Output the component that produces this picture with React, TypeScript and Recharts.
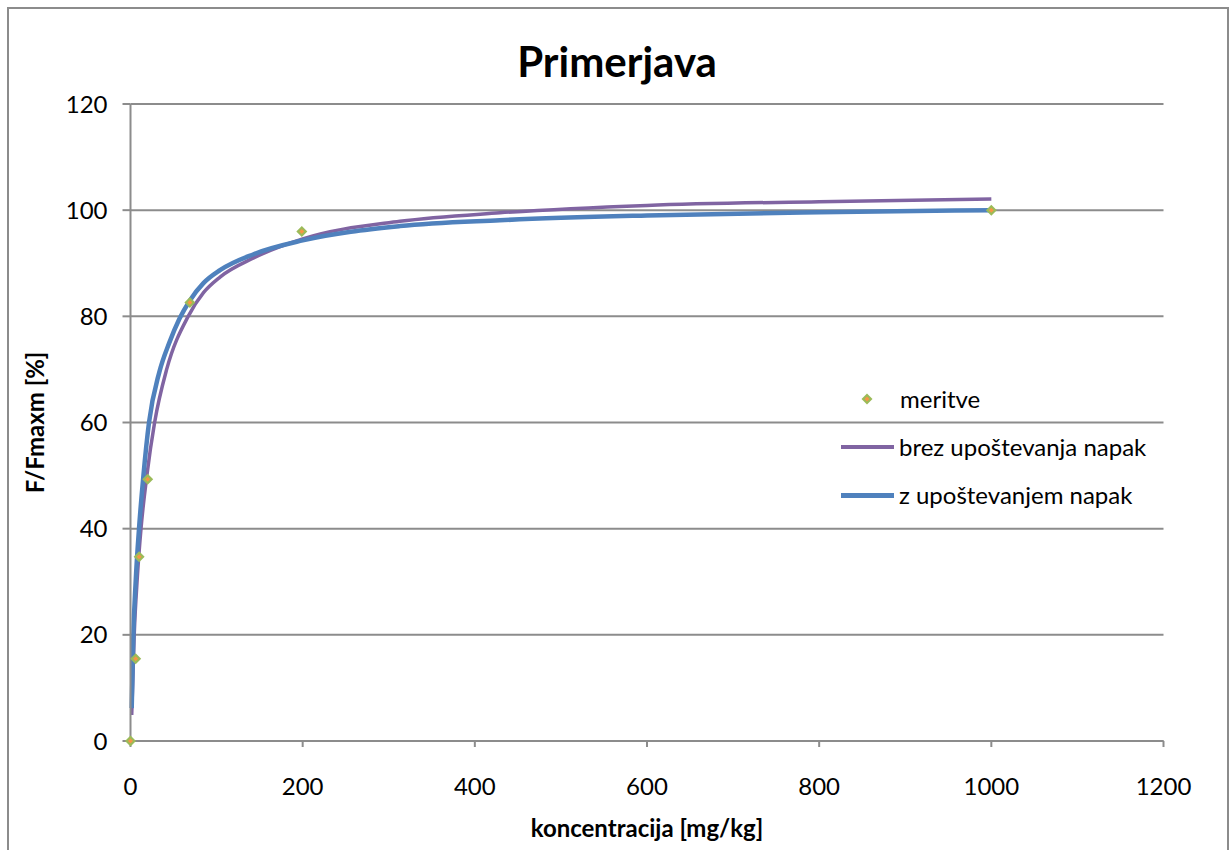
import React from "react";
import {
  ComposedChart,
  Line,
  Scatter,
  XAxis,
  YAxis,
  CartesianGrid,
  Legend,
} from "recharts";

// measured points (meritve)
const measX = [0, 6, 10, 20, 69, 199, 1000];
const measY = [0, 15.5, 34.7, 49.3, 82.6, 96.0, 100];

// fit without errors (brez upoštevanja napak)
const purpleX = [1.4, 4.3, 8, 12.2, 19, 28, 42, 67, 85, 104, 143, 200, 313, 429, 600, 800, 1000];
const purpleY = [4.9, 20, 31, 40, 50, 60, 70, 80, 84.5, 87.4, 91, 94.6, 97.9, 99.5, 100.9, 101.6, 102.1];

// fit with errors (z upoštevanjem napak)
const blueX = [1.4, 3.3, 6, 9.9, 15, 21.5, 33.5, 45, 56.7, 69, 85, 104, 143, 200, 313, 429, 600, 800, 1000];
const blueY = [6.2, 20, 30, 40, 50, 60, 69.5, 75, 79.5, 83, 86.3, 88.7, 91.7, 94.3, 97, 98.1, 99, 99.6, 100];

const xTicks = [0, 200, 400, 600, 800, 1000, 1200];
const yTicks = [0, 20, 40, 60, 80, 100, 120];

const FONT = "Lato, 'Open Sans', sans-serif";
const GRID = "#8c8c8c";
const PURPLE = "#8064A2";
const BLUE = "#4F81BD";

const toPoints = (xs: number[], ys: number[]) => xs.map((x, i) => ({ x, y: ys[i] }));

const measData = toPoints(measX, measY);
const purpleData = toPoints(purpleX, purpleY);
const blueData = toPoints(blueX, blueY);

function Diamond(props: any) {
  const { cx, cy } = props;
  if (cx == null || cy == null) return null;
  const d = (r: number) => `M${cx},${cy - r}L${cx + r},${cy}L${cx},${cy + r}L${cx - r},${cy}Z`;
  return (
    <g>
      <path d={d(5.5)} fill="#9BBB59" />
      <path d={d(2.5)} fill="#F79646" />
    </g>
  );
}

function LegendBox() {
  const text: React.CSSProperties = {
    position: "absolute",
    left: 64,
    fontFamily: FONT,
    fontSize: 24,
    color: "#000",
    lineHeight: "24px",
    whiteSpace: "nowrap",
  };
  return (
    <div style={{ position: "relative", width: 390, height: 145 }}>
      <svg style={{ position: "absolute", left: 26, top: 18 }} width={12} height={12}>
        <Diamond cx={6} cy={6} />
      </svg>
      <div style={{ ...text, left: 65, top: 12 }}>meritve</div>
      <div style={{ position: "absolute", left: 6, top: 70, width: 53, height: 3.5, background: PURPLE }} />
      <div style={{ ...text, top: 60 }}>brez upoštevanja napak</div>
      <div style={{ position: "absolute", left: 6, top: 118, width: 53, height: 4.5, background: BLUE }} />
      <div style={{ ...text, top: 108 }}>z upoštevanjem napak</div>
    </div>
  );
}

export default function App() {
  return (
    <div style={{ position: "absolute", left: 0, top: 0, width: 1232, height: 850, background: "#fff" }}>
      <div
        style={{
          position: "absolute",
          left: 7,
          top: 7,
          width: 1222,
          height: 843,
          borderTop: `2px solid ${GRID}`,
          borderLeft: `2px solid ${GRID}`,
          borderRight: `2px solid ${GRID}`,
          boxSizing: "border-box",
        }}
      />
      <div
        style={{
          position: "absolute",
          left: 0,
          top: 40,
          width: 1234,
          textAlign: "center",
          fontFamily: FONT,
          fontWeight: 700,
          fontSize: 42,
          lineHeight: "42px",
          color: "#000",
        }}
      >
        Primerjava
      </div>
      <div style={{ position: "absolute", left: 0, top: 0 }}>
        <ComposedChart
          width={1232}
          height={850}
          margin={{ top: 104, right: 68.5, left: 30.5, bottom: 9 }}
        >
          <CartesianGrid vertical={false} stroke={GRID} strokeWidth={2} />
          <XAxis
            type="number"
            dataKey="x"
            domain={[0, 1200]}
            ticks={xTicks}
            interval={0}
            height={100}
            tickSize={6}
            tickMargin={31}
            stroke={GRID}
            strokeWidth={2}
            tick={{ fill: "#000", fontSize: 24, fontFamily: FONT }}
            label={{
              value: "koncentracija [mg/kg]",
              position: "insideBottom",
              offset: 4,
              fill: "#000",
              fontSize: 24,
              fontWeight: 700,
              fontFamily: FONT,
            }}
          />
          <YAxis
            type="number"
            dataKey="y"
            domain={[0, 120]}
            ticks={yTicks}
            interval={0}
            width={100}
            tickSize={8}
            tickMargin={15}
            stroke={GRID}
            strokeWidth={2}
            tick={{ fill: "#000", fontSize: 24, fontFamily: FONT }}
            label={{
              value: "F/Fmaxm [%]",
              position: "insideLeft",
              angle: -90,
              offset: 4.5,
              fill: "#000",
              fontSize: 24,
              fontWeight: 700,
              fontFamily: FONT,
              style: { textAnchor: "middle" },
            }}
          />
          <Legend
            layout="horizontal"
            verticalAlign="middle"
            align="center"
            wrapperStyle={{ left: 835, top: 375, width: 390, height: 145 }}
            content={() => <LegendBox />}
          />
          <Line
            data={purpleData}
            dataKey="y"
            name="brez upoštevanja napak"
            type="monotone"
            stroke={PURPLE}
            strokeWidth={3.5}
            dot={false}
            activeDot={false}
            isAnimationActive={false}
          />
          <Line
            data={blueData}
            dataKey="y"
            name="z upoštevanjem napak"
            type="monotone"
            stroke={BLUE}
            strokeWidth={4.5}
            dot={false}
            activeDot={false}
            isAnimationActive={false}
          />
          <Scatter
            data={measData}
            dataKey="y"
            name="meritve"
            shape={<Diamond />}
            isAnimationActive={false}
          />
        </ComposedChart>
      </div>
    </div>
  );
}
